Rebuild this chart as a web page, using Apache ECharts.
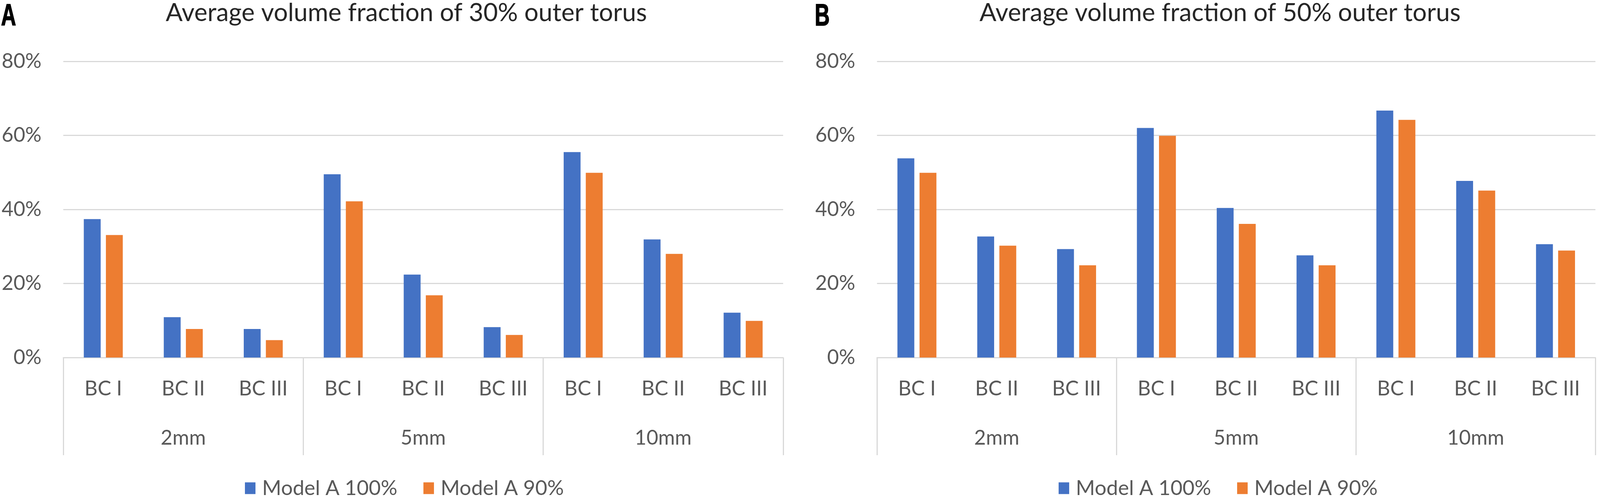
<!DOCTYPE html>
<html>
<head>
<meta charset="utf-8">
<script src="https://cdn.jsdelivr.net/npm/echarts@6/dist/echarts.min.js"></script>
<style>
  html, body { margin: 0; padding: 0; background: #fff; overflow: hidden; }
  #chart { width: 100vw; height: 1272px; }
</style>
</head>
<body>
<div id="chart"></div>
<script>
// categories and groups of the two-level x axis
const categories = ['BC I', 'BC II', 'BC III', 'BC I', 'BC II', 'BC III', 'BC I', 'BC II', 'BC III'];
const groups = ['2mm', '5mm', '10mm'];
const seriesNames = ['Model A 100%', 'Model A 90%'];

// panel A: 30% outer torus (values in %)
const torus30Model100 = [37.4, 10.9, 7.7, 49.5, 22.4, 8.2, 55.5, 31.9, 12.1];
const torus30Model90 = [33.1, 7.7, 4.7, 42.2, 16.8, 6.1, 49.9, 28.0, 9.9];

// panel B: 50% outer torus (values in %)
const torus50Model100 = [53.8, 32.7, 29.3, 62.0, 40.4, 27.6, 66.7, 47.7, 30.6];
const torus50Model90 = [49.9, 30.2, 24.9, 59.9, 36.1, 24.9, 64.2, 45.1, 28.9];

const yMin = 0;
const yMax = 80;
const yStep = 20;

const dom = document.getElementById('chart');
const chart = echarts.init(dom);

// the layout was measured on a 4550px wide picture; squeeze x to whatever width we get
const sx = dom.clientWidth / 4550;

const FONT = 'Lato, "Open Sans", sans-serif';
const GRID_COLOR = '#d9d9d9';
const LABEL_COLOR = '#595959';
const BLUE = '#4472c4';
const ORANGE = '#ed7d31';
const PANEL_OFFSET = 2314;

function panelTitle(x0, text) {
  return {
    text: text,
    left: (x0 + 1150) * sx,
    top: -4,
    textAlign: 'center',
    textStyle: {fontFamily: FONT, fontWeight: 'normal', fontSize: 64, color: '#262626'}
  };
}

function panelLetter(x0, letter) {
  return {
    type: 'text',
    x: (x0 + 3) * sx,
    y: 4,
    scaleX: 0.68,
    style: {
      text: letter,
      fontFamily: '"Liberation Sans", Arial, sans-serif',
      fontWeight: 'bold',
      fontSize: 78,
      fill: '#000',
      stroke: '#000',
      lineWidth: 2,
      align: 'left',
      verticalAlign: 'top'
    }
  };
}

function xAxesFor(gridIndex) {
  return [
    {
      type: 'category',
      gridIndex: gridIndex,
      data: categories,
      position: 'bottom',
      axisLine: {show: true, lineStyle: {color: GRID_COLOR, width: 3}},
      axisTick: {show: false},
      axisLabel: {interval: 0, margin: 54, fontFamily: FONT, fontSize: 52, color: LABEL_COLOR}
    },
    {
      type: 'category',
      gridIndex: gridIndex,
      data: groups,
      position: 'bottom',
      axisLine: {show: false},
      axisTick: {show: true, interval: 0, length: 250, lineStyle: {color: GRID_COLOR, width: 3}},
      axisLabel: {interval: 0, margin: 180, fontFamily: FONT, fontSize: 52, color: LABEL_COLOR}
    }
  ];
}

function yAxisFor(gridIndex) {
  return {
    type: 'value',
    gridIndex: gridIndex,
    min: yMin,
    max: yMax,
    interval: yStep,
    axisLine: {show: false},
    axisTick: {show: false},
    splitLine: {lineStyle: {color: GRID_COLOR, width: 3}},
    axisLabel: {margin: 62 * sx, fontFamily: FONT, fontSize: 52, color: LABEL_COLOR, formatter: '{value}%'}
  };
}

function barSeries(name, color, data, axisIndex) {
  return {
    name: name,
    type: 'bar',
    xAxisIndex: axisIndex * 2,
    yAxisIndex: axisIndex,
    data: data,
    barWidth: 48 * sx,
    barGap: '31%',
    itemStyle: {color: color}
  };
}

function legendFor(x0) {
  return {
    data: seriesNames,
    left: (x0 + 1150) * sx,
    top: 1218,
    orient: 'horizontal',
    icon: 'rect',
    itemWidth: 30 * sx,
    itemHeight: 30,
    itemGap: 74 * sx,
    textStyle: {fontFamily: FONT, fontSize: 53, color: LABEL_COLOR, padding: [0, 0, 0, 12]}
  };
}

const option = {
  backgroundColor: '#fff',
  animation: false,
  title: [
    panelTitle(0, 'Average volume fraction of 30% outer torus'),
    panelTitle(PANEL_OFFSET, 'Average volume fraction of 50% outer torus')
  ],
  graphic: [panelLetter(0, 'A'), panelLetter(PANEL_OFFSET, 'B')],
  legend: [legendFor(0), legendFor(PANEL_OFFSET)],
  grid: [
    {left: 180 * sx, top: 157, width: 2047 * sx, height: 758},
    {left: (180 + PANEL_OFFSET) * sx, top: 157, width: 2043 * sx, height: 758}
  ],
  xAxis: [...xAxesFor(0), ...xAxesFor(1)],
  yAxis: [yAxisFor(0), yAxisFor(1)],
  series: [
    barSeries(seriesNames[0], BLUE, torus30Model100, 0),
    barSeries(seriesNames[1], ORANGE, torus30Model90, 0),
    barSeries(seriesNames[0], BLUE, torus50Model100, 1),
    barSeries(seriesNames[1], ORANGE, torus50Model90, 1)
  ]
};

chart.setOption(option);

// legend "left" is its left edge; shift each legend so it is centred on its panel
const model = chart.getModel();
const shifted = [0, 1].map(i => {
  const view = chart.getViewOfComponentModel(model.getComponent('legend', i));
  const rect = view.group.getBoundingRect();
  return {left: ((i === 0 ? 0 : PANEL_OFFSET) + 1150) * sx - rect.width / 2};
});
chart.setOption({legend: shifted});
</script>
</body>
</html>
